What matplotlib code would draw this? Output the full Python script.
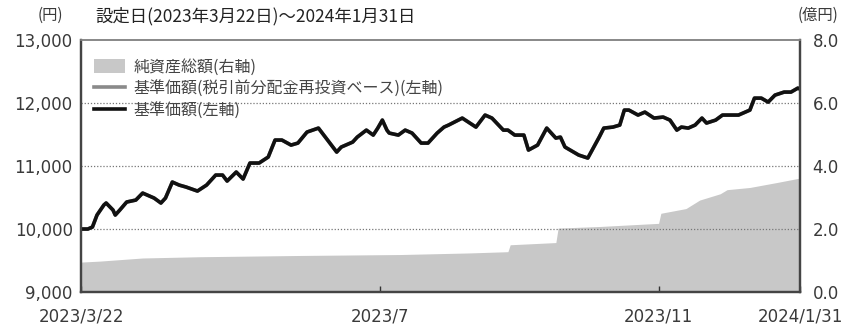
import numpy as np
import pandas as pd
import matplotlib
matplotlib.use("Agg")
import matplotlib.pyplot as plt
from matplotlib.patches import Patch
from matplotlib.lines import Line2D

plt.rcParams['font.family'] = ['Noto Sans CJK JP', 'DejaVu Sans']

# 基準価額 (円)
nav_dates = [
    "2023-03-22", "2023-03-25", "2023-03-27", "2023-03-29", "2023-04-01", "2023-04-02",
    "2023-04-05", "2023-04-06", "2023-04-08", "2023-04-11", "2023-04-15", "2023-04-18",
    "2023-04-23", "2023-04-26", "2023-04-28", "2023-05-01", "2023-05-04", "2023-05-07",
    "2023-05-12", "2023-05-16", "2023-05-20", "2023-05-23", "2023-05-25", "2023-05-29",
    "2023-06-01", "2023-06-04", "2023-06-08", "2023-06-12", "2023-06-15", "2023-06-18",
    "2023-06-22", "2023-06-25", "2023-06-29", "2023-07-04", "2023-07-08", "2023-07-12",
    "2023-07-14", "2023-07-19", "2023-07-21", "2023-07-25", "2023-07-28", "2023-07-30",
    "2023-08-01", "2023-08-03", "2023-08-04", "2023-08-08", "2023-08-11", "2023-08-14",
    "2023-08-18", "2023-08-21", "2023-08-25", "2023-08-28", "2023-08-30", "2023-09-05",
    "2023-09-11", "2023-09-15", "2023-09-18", "2023-09-23", "2023-09-25", "2023-09-28",
    "2023-10-02", "2023-10-04", "2023-10-08", "2023-10-12", "2023-10-16", "2023-10-18",
    "2023-10-20", "2023-10-26", "2023-10-30", "2023-11-04", "2023-11-06", "2023-11-10",
    "2023-11-13", "2023-11-15", "2023-11-17", "2023-11-21", "2023-11-24", "2023-11-28",
    "2023-12-02", "2023-12-05", "2023-12-08", "2023-12-10", "2023-12-13", "2023-12-16",
    "2023-12-19", "2023-12-21", "2023-12-25", "2023-12-28", "2024-01-04", "2024-01-09",
    "2024-01-11", "2024-01-14", "2024-01-17", "2024-01-20", "2024-01-24", "2024-01-27",
    "2024-01-30", "2024-01-31",
]
nav = [
    10000, 10000, 10032, 10222, 10381, 10413,
    10302, 10222, 10302, 10429, 10460, 10571,
    10492, 10413, 10492, 10746, 10698, 10667,
    10603, 10698, 10857, 10857, 10762, 10905,
    10794, 11048, 11048, 11143, 11413, 11413,
    11333, 11365, 11540, 11603, 11413, 11222,
    11302, 11381, 11460, 11571, 11492, 11603,
    11730, 11571, 11524, 11492, 11571, 11524,
    11365, 11365, 11524, 11619, 11651, 11762,
    11619, 11810, 11762, 11571, 11571, 11492,
    11492, 11254, 11333, 11603, 11444, 11460,
    11302, 11175, 11127, 11460, 11603, 11619,
    11651, 11889, 11889, 11810, 11857, 11762,
    11778, 11730, 11571, 11619, 11603, 11651,
    11762, 11683, 11730, 11810, 11810, 11889,
    12079, 12079, 12016, 12127, 12175, 12175,
    12238, 12222,
]
# 基準価額(税引前分配金再投資ベース) - 分配なしのため同値
nav_reinvest = list(nav)

# 純資産総額 (億円)
aum_dates = [
    "2023-03-22", "2023-03-30", "2023-04-18", "2023-05-13", "2023-06-26", "2023-08-09",
    "2023-09-08", "2023-09-25", "2023-09-26", "2023-10-16", "2023-10-17", "2023-11-04",
    "2023-11-30", "2023-12-01", "2023-12-12", "2023-12-18", "2023-12-27", "2023-12-30",
    "2024-01-09", "2024-01-21", "2024-01-31",
]
aum = [
    0.95, 0.98, 1.08, 1.12, 1.16, 1.19,
    1.24, 1.28, 1.50, 1.57, 2.03, 2.08,
    2.18, 2.50, 2.65, 2.92, 3.12, 3.25,
    3.32, 3.48, 3.62,
]

xtick_dates = ["2023-03-22", "2023-07-31", "2023-11-30", "2024-01-31"]
xtick_labels = ["2023/3/22", "2023/7", "2023/11", "2024/1/31"]

nav_x = pd.to_datetime(nav_dates)
aum_x = pd.to_datetime(aum_dates)

fig = plt.figure(figsize=(8.44, 3.29), dpi=100)
ax = fig.add_axes([0.096, 0.1125, 0.852, 0.7655])
ax2 = ax.twinx()

# fill behind, lines in front
ax2.fill_between(aum_x, 0, aum, color="#c8c8c8", linewidth=0)
ax.set_zorder(ax2.get_zorder() + 1)
ax.patch.set_visible(False)

ax.plot(nav_x, nav_reinvest, color="#8a8a8a", lw=2.6, solid_joinstyle="round")
ax.plot(nav_x, nav, color="#111111", lw=2.6, solid_joinstyle="round")

ax.set_ylim(9000, 13000)
ax.set_yticks([9000, 10000, 11000, 12000, 13000])
ax.set_yticklabels(["9,000", "10,000", "11,000", "12,000", "13,000"])
ax2.set_ylim(0, 8)
ax2.set_yticks([0, 2, 4, 6, 8])
ax2.set_yticklabels(["0.0", "2.0", "4.0", "6.0", "8.0"])

ax.set_xlim(pd.Timestamp("2023-03-22"), pd.Timestamp("2024-01-31"))
ax.set_xticks(pd.to_datetime(xtick_dates))
ax.set_xticklabels(xtick_labels)

for y in [10000, 11000, 12000]:
    ax.axhline(y, color="#777777", lw=0.9, ls=(0, (1, 1.5)), zorder=1)

lab_col = "#3a3a3a"
num_font = "DejaVu Sans"
ax.tick_params(axis="y", length=0, colors=lab_col, pad=6)
ax2.tick_params(axis="y", length=0, colors=lab_col, pad=9)
ax.tick_params(axis="x", direction="in", length=4, width=1, colors="#333333", pad=11)
ax.tick_params(axis="x", labelcolor=lab_col)
ax2.tick_params(axis="x", length=0)
for t in ax.get_yticklabels() + ax2.get_yticklabels() + ax.get_xticklabels():
    t.set_fontfamily(num_font)
    t.set_fontsize(12)

for a in (ax, ax2):
    for side in ["left", "right", "bottom"]:
        a.spines[side].set_color("#444444")
        a.spines[side].set_linewidth(1.6)
    a.spines["top"].set_color("#888888")
    a.spines["top"].set_linewidth(1.2)

handles = [
    Patch(facecolor="#c8c8c8", edgecolor="none"),
    Line2D([], [], color="#8a8a8a", lw=2.6),
    Line2D([], [], color="#111111", lw=2.6),
]
labels = ["純資産総額(右軸)", "基準価額(税引前分配金再投資ベース)(左軸)", "基準価額(左軸)"]
leg = ax.legend(handles, labels, loc="upper left", bbox_to_anchor=(0.005, 0.965),
                frameon=False, fontsize=11.5, handlelength=1.9, handleheight=1.0,
                labelspacing=0.3, handletextpad=0.55, borderaxespad=0.2)
for t in leg.get_texts():
    t.set_color("#444444")

fig.text(0.045, 0.952, "(円)", fontsize=11, color=lab_col, va="center")
fig.text(0.113, 0.952, "設定日(2023年3月22日)～2024年1月31日", fontsize=12.5,
         color="#222222", va="center")
fig.text(0.945, 0.952, "(億円)", fontsize=11, color=lab_col, va="center")

fig.savefig("out.png", dpi=100)
